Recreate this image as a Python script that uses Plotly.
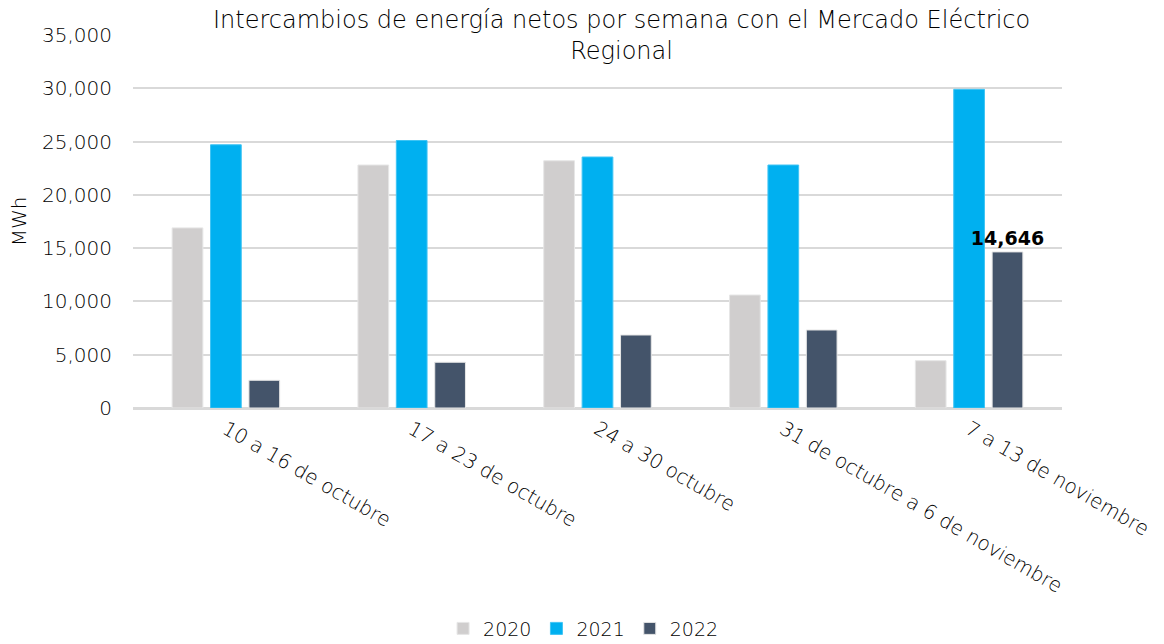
import plotly.graph_objects as go

categories = ["10 a 16 de octubre", "17 a 23 de octubre", "24 a 30 octubre",
              "31 de octubre a 6 de noviembre", "7 a 13 de noviembre"]
v2020 = [16900, 22800, 23200, 10600, 4440]
v2021 = [24700, 25100, 23550, 22800, 29900]
v2022 = [2600, 4290, 6850, 7320, 14646]
labels2022 = ["", "", "", "", "<b>14,646</b>"]

FONT = "DejaVu Sans"
TXT = "#000000"
W = 300

fig = go.Figure()
fig.add_trace(go.Bar(name="2020", x=categories, y=v2020, marker=dict(color="#d0cece", line=dict(color="#e6e6e6", width=1))))
fig.add_trace(go.Bar(name="2021", x=categories, y=v2021, marker=dict(color="#00b0f0", line=dict(color="#3fc4f4", width=1))))
fig.add_trace(go.Bar(name="2022", x=categories, y=v2022, marker=dict(color="#44546a", line=dict(color="#e6e6e6", width=1)),
                     text=labels2022, textposition="outside", cliponaxis=False, constraintext="none",
                     textfont=dict(family=FONT, size=19, color="#000000", weight=700)))

fig.update_layout(
    width=1164, height=644,
    margin=dict(l=133, r=102, t=35, b=236, autoexpand=False),
    paper_bgcolor="white", plot_bgcolor="white",
    barmode="group", bargap=0.38, bargroupgap=0.2,
    font=dict(family=FONT, size=19, color=TXT, weight=W),
    showlegend=True,
    legend=dict(orientation="h", x=0.485, xanchor="center", yref="container", y=0.024, yanchor="middle",
                font=dict(family=FONT, size=19, color=TXT, weight=W), itemwidth=30,
                traceorder="normal"),
    yaxis=dict(range=[0, 35000], dtick=5000, tickformat=",d", showgrid=True, automargin=False,
               gridcolor="#d9d9d9", gridwidth=1.5, zeroline=True, zerolinecolor="#d9d9d9",
               zerolinewidth=1.5, ticks="", ticklen=0, showline=False, ticklabelstandoff=20,
               title=dict(text="MWh", font=dict(family=FONT, size=20, color=TXT, weight=W), standoff=10),
               tickfont=dict(family=FONT, size=20, color=TXT, weight=W)),
    xaxis=dict(tickangle=30, showgrid=False, ticks="", showline=True, linecolor="#d9d9d9", linewidth=1.5,
               automargin=False,
               tickfont=dict(family=FONT, size=20, color=TXT, weight=W)),
    annotations=[dict(text="Intercambios de energía netos por semana con el Mercado Eléctrico<br>Regional",
                      xref="paper", yref="paper", x=0.526, y=1.0, xanchor="center", yanchor="middle",
                      showarrow=False, align="center",
                      font=dict(family=FONT, size=24, color=TXT, weight=W))],
)

fig.write_html("out.html", config={"displayModeBar": False},
               post_script="document.body.style.margin='0';document.body.style.overflow='hidden';")
